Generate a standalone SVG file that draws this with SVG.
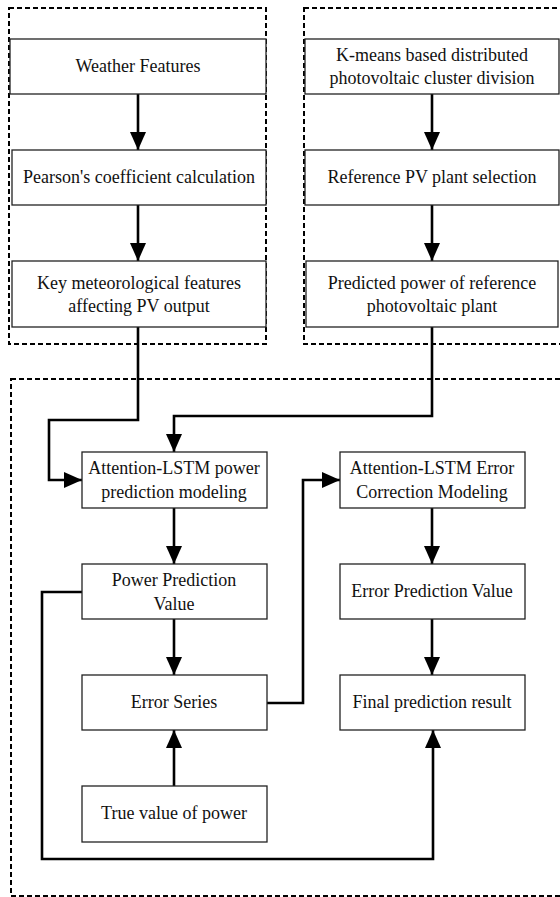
<svg xmlns="http://www.w3.org/2000/svg" width="560" height="897" viewBox="0 0 560 897">
  <style>
    .frame { fill: none; stroke: #000; stroke-width: 2; stroke-dasharray: 5 3; }
    .box { fill: #fff; stroke: #222; stroke-width: 1.3; }
    .label { font-family: 'Liberation Serif', 'Times New Roman', serif; font-size: 18px; fill: #111; text-anchor: middle; }
    .link { fill: none; stroke: #000; stroke-width: 2.6; stroke-linejoin: miter; }
  </style>
  <defs>
    <marker id="arrow" viewBox="0 0 18 16" refX="18" refY="8" markerWidth="18" markerHeight="16" markerUnits="userSpaceOnUse" orient="auto">
      <path d="M0,0 L18,8 L0,16 Z" fill="#000"/>
    </marker>
  </defs>

  <!-- dashed grouping frames -->
  <g id="frames">
    <rect class="frame" x="9" y="8" width="257" height="336"/>
    <rect class="frame" x="304" y="8" width="262" height="336"/>
    <rect class="frame" x="11" y="379" width="556" height="517"/>
  </g>

  <!-- connectors -->
  <g id="connectors">
    <path class="link" d="M138,94 V150" marker-end="url(#arrow)"/>
    <path class="link" d="M138,205 V261" marker-end="url(#arrow)"/>
    <path class="link" d="M432,94 V150" marker-end="url(#arrow)"/>
    <path class="link" d="M432,205 V261" marker-end="url(#arrow)"/>
    <path class="link" d="M138,327 V420 H49 V480 H82" marker-end="url(#arrow)"/>
    <path class="link" d="M432,327 V416 H174 V452" marker-end="url(#arrow)"/>
    <path class="link" d="M174,508 V564" marker-end="url(#arrow)"/>
    <path class="link" d="M174,619 V675" marker-end="url(#arrow)"/>
    <path class="link" d="M174,786 V730" marker-end="url(#arrow)"/>
    <path class="link" d="M267,703 H303 V480 H340" marker-end="url(#arrow)"/>
    <path class="link" d="M432,508 V564" marker-end="url(#arrow)"/>
    <path class="link" d="M432,619 V675" marker-end="url(#arrow)"/>
    <path class="link" d="M82,592 H42 V859 H433 V730" marker-end="url(#arrow)"/>
  </g>

  <g id="weather-features">
    <rect class="box" x="10" y="39" width="256" height="55"/>
    <text class="label" x="138" y="72">Weather Features</text>
  </g>
  <g id="pearson">
    <rect class="box" x="12" y="150" width="254" height="55"/>
    <text class="label" x="139" y="183">Pearson's coefficient calculation</text>
  </g>
  <g id="key-features">
    <rect class="box" x="12" y="261" width="254" height="66"/>
    <text class="label" x="139" y="289">Key meteorological features</text>
    <text class="label" x="139" y="312">affecting PV output</text>
  </g>

  <g id="kmeans">
    <rect class="box" x="305" y="39" width="254" height="55"/>
    <text class="label" x="432" y="61">K-means based distributed</text>
    <text class="label" x="432" y="84">photovoltaic cluster division</text>
  </g>
  <g id="reference-selection">
    <rect class="box" x="305" y="150" width="254" height="55"/>
    <text class="label" x="432" y="183">Reference PV plant selection</text>
  </g>
  <g id="reference-power">
    <rect class="box" x="306" y="261" width="252" height="66"/>
    <text class="label" x="432" y="289">Predicted power of reference</text>
    <text class="label" x="432" y="312">photovoltaic plant</text>
  </g>

  <g id="power-model">
    <rect class="box" x="82" y="452" width="185" height="56"/>
    <text class="label" x="174" y="474">Attention-LSTM power</text>
    <text class="label" x="174" y="498">prediction modeling</text>
  </g>
  <g id="power-value">
    <rect class="box" x="82" y="564" width="185" height="55"/>
    <text class="label" x="174" y="586">Power Prediction</text>
    <text class="label" x="174" y="610">Value</text>
  </g>
  <g id="error-series">
    <rect class="box" x="82" y="675" width="185" height="55"/>
    <text class="label" x="174" y="708">Error Series</text>
  </g>
  <g id="true-value">
    <rect class="box" x="82" y="786" width="185" height="56"/>
    <text class="label" x="174" y="819">True value of power</text>
  </g>

  <g id="error-model">
    <rect class="box" x="340" y="452" width="185" height="56"/>
    <text class="label" x="432" y="474">Attention-LSTM Error</text>
    <text class="label" x="432" y="498">Correction Modeling</text>
  </g>
  <g id="error-value">
    <rect class="box" x="340" y="564" width="185" height="55"/>
    <text class="label" x="432" y="597">Error Prediction Value</text>
  </g>
  <g id="final-result">
    <rect class="box" x="340" y="675" width="185" height="55"/>
    <text class="label" x="432" y="708">Final prediction result</text>
  </g>
</svg>
